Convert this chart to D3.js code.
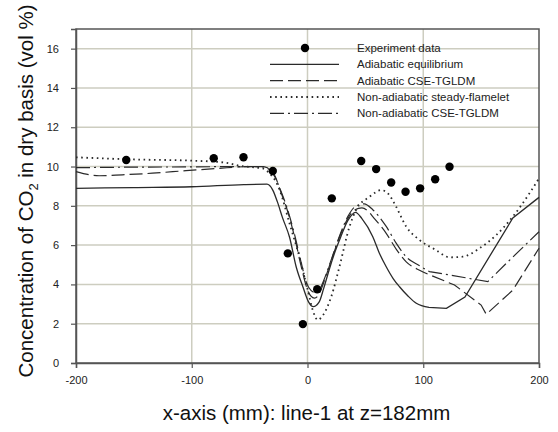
<!DOCTYPE html>
<html>
<head>
<meta charset="utf-8">
<script src="https://cdn.jsdelivr.net/npm/d3@7"></script>
<style>
  html, body { margin: 0; padding: 0; background: #fff; }
  svg { display: block; font-family: "Liberation Sans", Arial, sans-serif; }
</style>
</head>
<body>
<svg id="chart" width="558" height="432"></svg>
<script>
// Measured CO2 concentration along line-1 (z = 182 mm)
const expX = [-156.6, -81, -55.3, -30, -17, -4, 8.4, 21, 46.4, 59.3, 72.3, 84.7, 97.3, 110.3, 122.7];
const expY = [10.33, 10.42, 10.47, 9.77, 5.58, 1.98, 3.75, 8.38, 10.28, 9.87, 9.19, 8.72, 8.89, 9.35, 9.99];

// Adiabatic equilibrium
const adEqX = [-200, -150, -100, -55, -35, -30, -26, -21.6, -15.5, -9.8, -4, 1, 5, 10, 14, 19, 24, 27.6, 34.8, 41.5, 47, 56.4, 62, 68, 74, 79.5, 87, 94, 105, 120, 136, 177.4, 200];
const adEqY = [8.89, 8.93, 8.97, 9.08, 9.1, 8.8, 8.2, 7.4, 6.4, 4.9, 3.88, 3.1, 2.87, 3.1, 3.8, 4.8, 5.7, 6.25, 7.25, 7.67, 7.35, 6.43, 5.6, 4.9, 4.3, 3.88, 3.4, 3.04, 2.83, 2.78, 3.36, 7.38, 8.43];

// Adiabatic CSE-TGLDM
const adCseX = [-200, -180, -160, -134, -105, -76, -55, -40, -33, -28, -23, -18.4, -11.2, -5.4, -1, 3, 6, 10, 14, 19, 27.6, 34.8, 41, 47, 52, 56.4, 68, 76.6, 85.3, 96.8, 105, 127, 150, 154.4, 177.4, 200];
const adCseY = [9.74, 9.53, 9.58, 9.66, 9.79, 9.91, 9.99, 10.0, 9.9, 9.5, 8.7, 7.95, 6.43, 4.9, 3.9, 3.4, 3.3, 3.5, 4.1, 4.95, 6.4, 7.35, 7.8, 7.9, 7.75, 7.45, 6.6, 5.8, 5.15, 4.72, 4.5, 3.97, 2.95, 2.48, 3.71, 5.84];

// Non-adiabatic steady-flamelet
const naFlX = [-200, -150, -100, -70, -59, -45, -38.6, -32, -28, -24, -15.5, -7, 0.3, 5, 8.9, 13, 20.5, 27.6, 36.3, 42, 53.6, 63.7, 70, 76.6, 85.3, 96.8, 111, 122.7, 134, 148.6, 163, 177.4, 191.8, 200];
const naFlY = [10.47, 10.36, 10.3, 10.19, 10.04, 9.95, 9.9, 9.6, 9.3, 8.8, 7.1, 5.4, 3.7, 2.6, 2.19, 2.4, 3.37, 4.9, 6.94, 7.79, 8.46, 8.8, 8.6, 7.95, 6.94, 6.26, 5.75, 5.38, 5.41, 5.84, 6.51, 7.45, 8.64, 9.4];

// Non-adiabatic CSE-TGLDM
const naCseX = [-200, -150, -100, -60, -40, -33, -28, -23, -18, -11, -5, -1, 3, 6, 10, 14, 19, 27.6, 34.8, 41, 49, 56.4, 68, 76.6, 85.3, 96.8, 105.4, 122.7, 155.8, 171.7, 200];
const naCseY = [9.94, 9.97, 9.98, 10.0, 10.0, 9.85, 9.45, 8.75, 7.95, 6.5, 5.0, 4.1, 3.7, 3.6, 3.7, 4.2, 5.0, 6.45, 7.45, 7.95, 8.1, 7.8, 6.95, 6.1, 5.4, 4.95, 4.65, 4.48, 4.14, 5.07, 6.68];

const xTicks = [-200, -100, 0, 100, 200];
const yTicks = [0, 2, 4, 6, 8, 10, 12, 14, 16];

const legendLabels = ["Experiment data", "Adiabatic equilibrium", "Adiabatic CSE-TGLDM",
                      "Non-adiabatic steady-flamelet", "Non-adiabatic CSE-TGLDM"];

const svg = d3.select("#chart");
const plot = { left: 76, right: 539, top: 29, bottom: 363 };

const x = d3.scaleLinear().domain([-200, 200]).range([plot.left, plot.right]);
const y = d3.scaleLinear().domain([0, 17]).range([plot.bottom, plot.top]);

const gridColor = "#cdcdc0";
const axisColor = "#555";
const lineColor = "#2a2a2a";

// grid
svg.append("g").selectAll("line")
  .data(xTicks.filter(v => v > -200 && v < 200)).join("line")
  .attr("x1", d => x(d)).attr("x2", d => x(d))
  .attr("y1", plot.top).attr("y2", plot.bottom)
  .attr("stroke", gridColor).attr("stroke-width", 1.5);
svg.append("g").selectAll("line")
  .data(yTicks.filter(v => v > 0)).join("line")
  .attr("x1", plot.left).attr("x2", plot.right)
  .attr("y1", d => y(d)).attr("y2", d => y(d))
  .attr("stroke", gridColor).attr("stroke-width", 1.5);

// frame
svg.append("rect")
  .attr("x", plot.left).attr("y", plot.top)
  .attr("width", plot.right - plot.left).attr("height", plot.bottom - plot.top)
  .attr("fill", "none").attr("stroke", axisColor).attr("stroke-width", 1.5);

// axes (plain hyphen for negatives)
const fmt = d => String(d);
const xAxis = svg.append("g").attr("transform", `translate(0,${plot.bottom})`)
  .call(d3.axisBottom(x).tickValues(xTicks).tickSize(5).tickPadding(8).tickFormat(fmt));
const yAxis = svg.append("g").attr("transform", `translate(${plot.left},0)`)
  .call(d3.axisLeft(y).tickValues(yTicks).tickSize(5).tickPadding(12).tickFormat(fmt));
[xAxis, yAxis].forEach(g => {
  g.select(".domain").attr("stroke", axisColor).attr("stroke-width", 1.5);
  g.selectAll(".tick line").attr("stroke", axisColor).attr("stroke-width", 1.2);
  g.selectAll(".tick text").attr("fill", "#222")
    .style("font-family", '"Liberation Sans", Arial, sans-serif').style("font-size", "11px");
});

// series lines: smooth through the readings, straight over the sparse right-hand tail
const series = [
  { xs: adEqX, ys: adEqY, dash: null, width: 1.3, linearFrom: 105 },
  { xs: adCseX, ys: adCseY, dash: "13,5", width: 1.2, linearFrom: 105 },
  { xs: naFlX, ys: naFlY, dash: "1.6,3.6", width: 1.8, linearFrom: Infinity },
  { xs: naCseX, ys: naCseY, dash: "14,4,2,4", width: 1.2, linearFrom: 105.4 }
];
const smooth = d3.line().x(d => x(d[0])).y(d => y(d[1])).curve(d3.curveMonotoneX);
const straight = d3.line().x(d => x(d[0])).y(d => y(d[1]));
series.forEach(s => {
  const pts = s.xs.map((v, i) => [v, s.ys[i]]);
  const head = pts.filter(p => p[0] <= s.linearFrom);
  const tail = pts.filter(p => p[0] >= s.linearFrom);
  let d = smooth(head);
  if (tail.length > 1) d += straight(tail).replace(/^M[^L]*/, "");
  svg.append("path")
    .attr("d", d)
    .attr("fill", "none")
    .attr("stroke", lineColor)
    .attr("stroke-width", s.width)
    .attr("stroke-dasharray", s.dash);
});

// experiment points
svg.append("g").selectAll("circle")
  .data(expX.map((v, i) => [v, expY[i]])).join("circle")
  .attr("cx", d => x(d[0])).attr("cy", d => y(d[1]))
  .attr("r", 4.2).attr("fill", "#000");

// legend
const lg = svg.append("g");
const legY = [48, 64.3, 80.6, 97, 113.3];
const styles = [null, { dash: null, width: 1.3 }, { dash: "13,5", width: 1.2 },
                { dash: "1.6,3.6", width: 1.8 }, { dash: "14,4,2,4", width: 1.2 }];
legendLabels.forEach((lab, i) => {
  if (i === 0) {
    lg.append("circle").attr("cx", 305).attr("cy", legY[i]).attr("r", 4.2).attr("fill", "#000");
  } else {
    lg.append("line").attr("x1", 270).attr("x2", 339)
      .attr("y1", legY[i]).attr("y2", legY[i])
      .attr("stroke", lineColor).attr("stroke-width", styles[i].width)
      .attr("stroke-dasharray", styles[i].dash);
  }
  lg.append("text").attr("x", 357).attr("y", legY[i]).attr("dy", "0.35em")
    .attr("fill", "#222").style("font-size", "11.5px").text(lab);
});

// axis titles
svg.append("text")
  .attr("x", 306.5).attr("y", 420)
  .attr("text-anchor", "middle").attr("fill", "#111")
  .style("font-size", "20.5px")
  .text("x-axis (mm): line-1 at z=182mm");

const yt = svg.append("text")
  .attr("transform", "translate(33,191) rotate(-90)")
  .attr("text-anchor", "middle").attr("fill", "#111")
  .style("font-size", "20.5px");
yt.append("tspan").text("Concentration of CO");
yt.append("tspan").attr("dy", 5).style("font-size", "13px").text("2");
yt.append("tspan").attr("dy", -5).text(" in dry basis (vol %)");
</script>
</body>
</html>
